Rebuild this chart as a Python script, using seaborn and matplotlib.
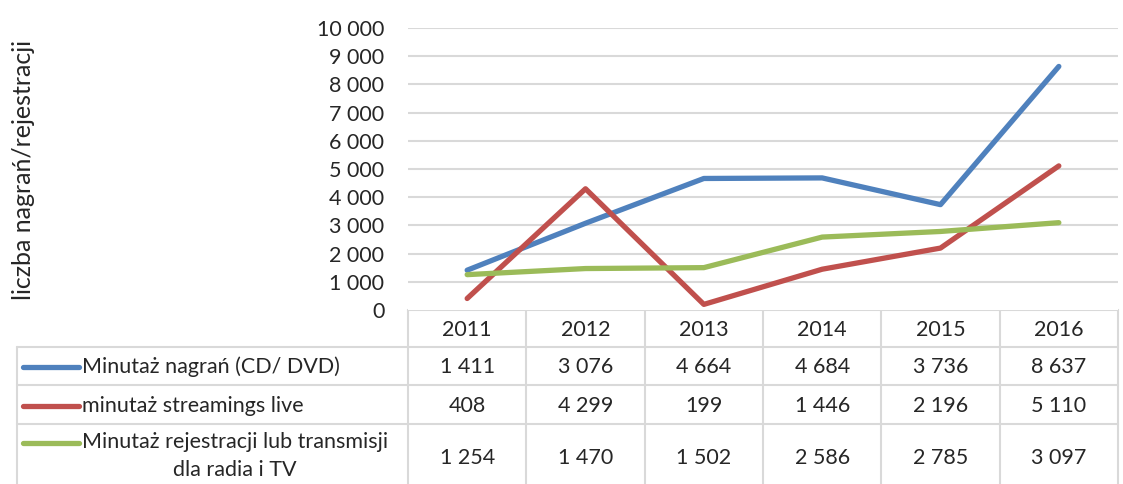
import matplotlib
matplotlib.use('Agg')
import matplotlib.pyplot as plt
import seaborn as sns
import pandas as pd
import numpy as np

# --- data ---
years = ['2011', '2012', '2013', '2014', '2015', '2016']
series_names = [
    'Minutaż nagrań (CD/ DVD)',
    'minutaż streamings live',
    'Minutaż rejestracji lub transmisji\ndla radia i TV',
]
nagrania = [1411, 3076, 4664, 4684, 3736, 8637]
streaming = [408, 4299, 199, 1446, 2196, 5110]
rejestracje = [1254, 1470, 1502, 2586, 2785, 3097]
y_ticks = [0, 1000, 2000, 3000, 4000, 5000, 6000, 7000, 8000, 9000, 10000]
y_label = 'liczba nagrań/rejestracji'

colors = ['#4F81BD', '#C0504D', '#9BBB59']
grid_col = '#D9D9D9'
FS = 15.5


def fmt(v):
    return f'{v:,}'.replace(',', ' ')


sns.set_theme(style='white')
plt.rcParams['font.family'] = ['Lato', 'DejaVu Sans']

W, H = 1123, 484
fig = plt.figure(figsize=(W / 100, H / 100), dpi=100)

# plot area in pixel coordinates
left, right, top, bottom = 408, 1118, 28, 310
ax = fig.add_axes([left / W, 1 - bottom / H, (right - left) / W, (bottom - top) / H])

rows = [nagrania, streaming, rejestracje]
df = pd.DataFrame({
    'x': np.tile(np.arange(len(years)), len(rows)),
    'value': np.concatenate(rows),
    'series': np.repeat(series_names, len(years)),
})
sns.lineplot(data=df, x='x', y='value', hue='series', hue_order=series_names,
             palette=colors, linewidth=3.8, legend=False, ax=ax,
             solid_capstyle='round')

ax.set_xlim(-0.5, len(years) - 0.5)
ax.set_ylim(0, 10000)
ax.set_yticks(y_ticks)
ax.set_yticklabels([fmt(t) for t in y_ticks], fontsize=FS)
ax.set_xticks([])
ax.set_xlabel('')
ax.set_ylabel('')
ax.tick_params(axis='y', length=0, pad=17)
for t in y_ticks[1:]:
    ax.axhline(t, color=grid_col, lw=1.5, zorder=0)
for s in ax.spines.values():
    s.set_visible(False)

fig.text(24 / W, 1 - 170 / H, y_label, rotation=90, ha='center', va='center', fontsize=18)

# --- data table drawn in pixel coordinates ---
ov = fig.add_axes([0, 0, 1, 1], zorder=-1)
ov.set_xlim(0, W)
ov.set_ylim(H, 0)
ov.axis('off')

tab_left = 17
col_w = (right - left) / len(years)
row_edges = [310, 347, 385, 424, 484]
lkw = dict(color=grid_col, lw=1.5)

ov.plot([left, right], [row_edges[0]] * 2, **lkw)
for y in row_edges[1:4]:
    ov.plot([tab_left, right], [y, y], **lkw)
ov.plot([tab_left, tab_left], [row_edges[1], H], **lkw)
for k in range(len(years) + 1):
    x = left + k * col_w
    ov.plot([x, x], [row_edges[0], H], **lkw)

centers = [(row_edges[i] + row_edges[i + 1]) / 2 for i in range(4)]
for j, yr in enumerate(years):
    ov.text(left + (j + 0.5) * col_w, centers[0] + 1, yr, ha='center', va='center', fontsize=FS)

for i, (name, vals, c) in enumerate(zip(series_names, rows, colors)):
    yc = centers[i + 1] + 1
    key_y = yc if i < 2 else 443
    ov.plot([23, 79], [key_y, key_y], color=c, lw=3.8, solid_capstyle='round')
    ov.text(82, yc + (1 if i == 2 else 0), name, ha='left', va='center', fontsize=FS,
            multialignment='center', linespacing=1.45)
    for j, v in enumerate(vals):
        ov.text(left + (j + 0.5) * col_w, yc + (3 if i == 2 else 0), fmt(v),
                ha='center', va='center', fontsize=FS)

fig.savefig('out.png', dpi=100)
